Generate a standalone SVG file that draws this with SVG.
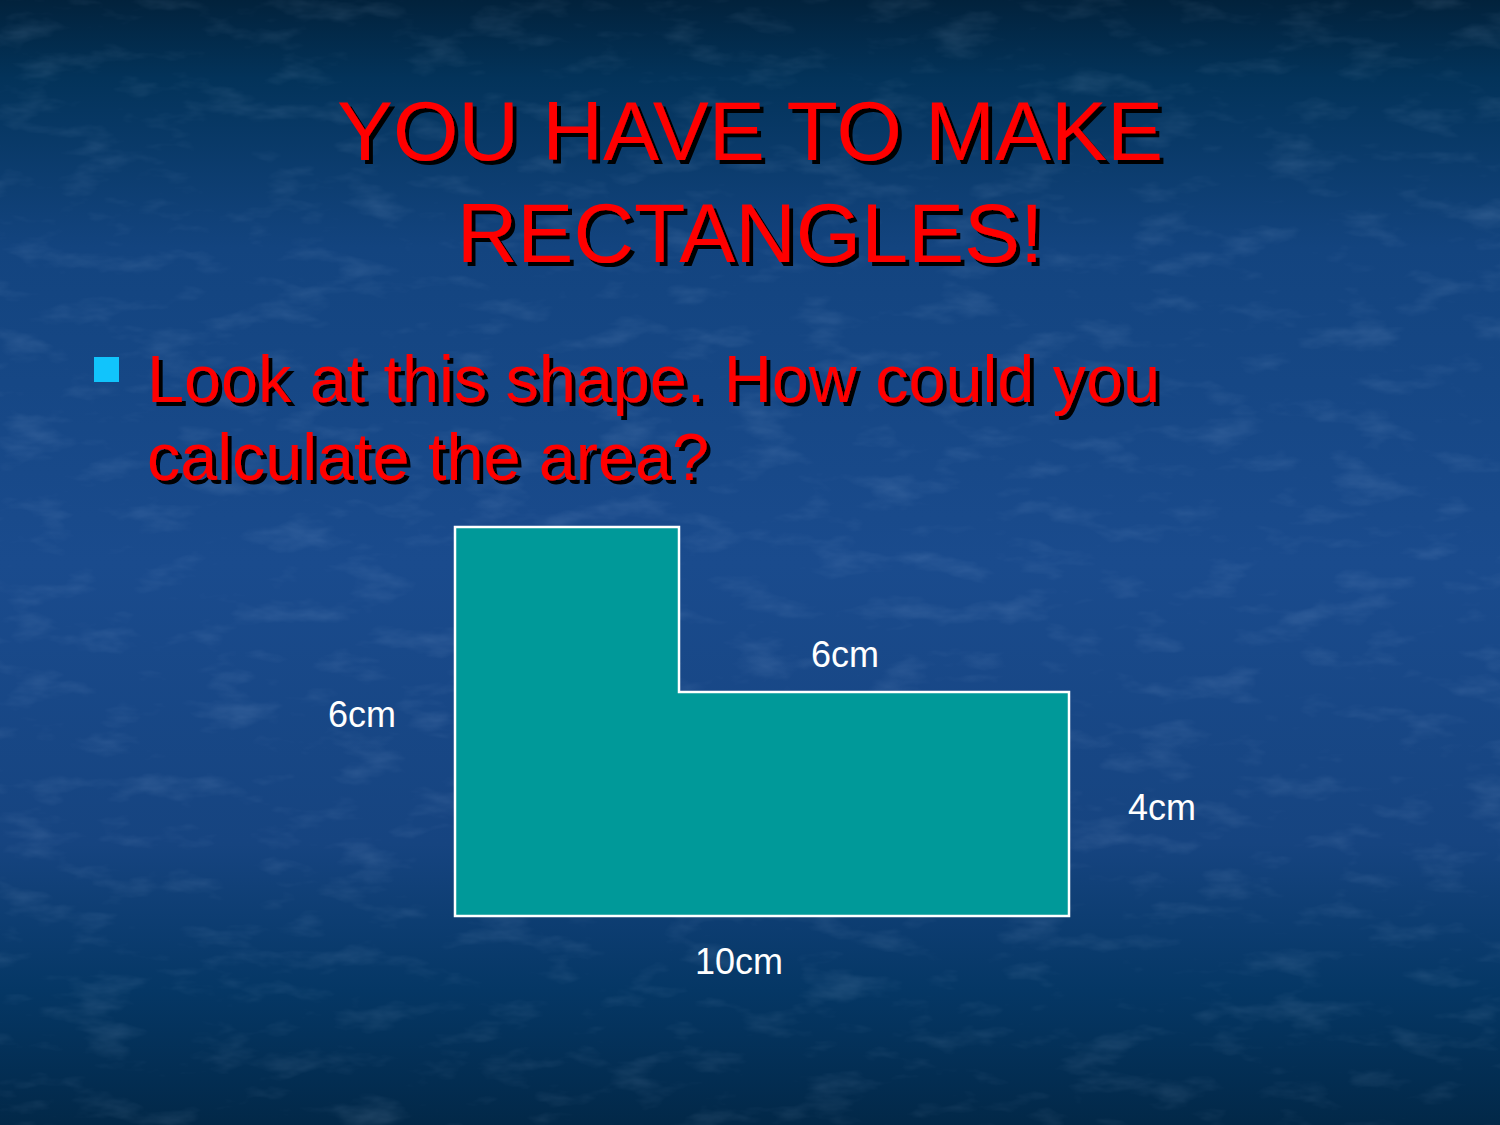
<svg xmlns="http://www.w3.org/2000/svg" width="1500" height="1125" viewBox="0 0 1500 1125">
<defs>
<linearGradient id="bg" x1="0" y1="0" x2="0" y2="1">
<stop offset="0" stop-color="#02223c"/>
<stop offset="0.07" stop-color="#03335a"/>
<stop offset="0.22" stop-color="#13447f"/>
<stop offset="0.5" stop-color="#1a4b8d"/>
<stop offset="0.75" stop-color="#164480"/>
<stop offset="0.88" stop-color="#053765"/>
<stop offset="1" stop-color="#022848"/>
</linearGradient>
<filter id="tex" x="0" y="0" width="1" height="1">
<feTurbulence type="fractalNoise" baseFrequency="0.015 0.04" numOctaves="4" seed="3" result="n"/>
<feColorMatrix type="matrix" values="0 0 0 0 0.6  0 0 0 0 0.75  0 0 0 0 1  0 0 0 1.6 -0.85" />
</filter>
<filter id="shadow" x="-5%" y="-5%" width="110%" height="120%">
<feOffset dx="4" dy="4" in="SourceAlpha" result="o"/>
<feFlood flood-color="#000"/>
<feComposite in2="o" operator="in" result="s"/>
<feMerge><feMergeNode in="s"/><feMergeNode in="SourceGraphic"/></feMerge>
</filter>
</defs>
<style>
.title{font-family:"Liberation Sans",Arial,sans-serif;font-size:84px;fill:#ff0000;text-anchor:middle}
.body{font-family:"Liberation Sans",Arial,sans-serif;font-size:66.5px;fill:#ff0000}
.lbl{font-family:"Liberation Sans",Arial,sans-serif;font-size:36px;fill:#ffffff}
</style>
<rect x="0" y="0" width="1500" height="1125" fill="url(#bg)"/>
<rect x="0" y="0" width="1500" height="1125" filter="url(#tex)" opacity="0.18"/>
<g id="title" filter="url(#shadow)">
<text class="title" x="750" y="160">YOU HAVE TO MAKE</text>
<text class="title" x="750" y="262">RECTANGLES!</text>
</g>
<g id="bullet">
<rect x="94" y="357" width="25" height="25" fill="#11c4fc"/>
<g filter="url(#shadow)">
<text class="body" x="147" y="402">Look at this shape. How could you</text>
<text class="body" x="147" y="480">calculate the area?</text>
</g>
</g>
<g id="lshape">
<path d="M455,527 L679,527 L679,692 L1069,692 L1069,916 L455,916 Z" fill="#009999" stroke="#ffffff" stroke-width="2.5"/>
</g>
<g id="labels">
<text class="lbl" x="811" y="667">6cm</text>
<text class="lbl" x="328" y="727">6cm</text>
<text class="lbl" x="1128" y="820">4cm</text>
<text class="lbl" x="695" y="974">10cm</text>
</g>
</svg>
